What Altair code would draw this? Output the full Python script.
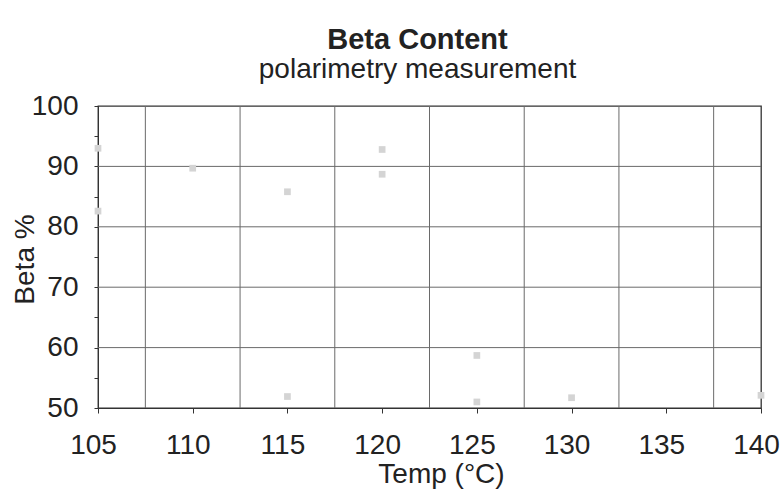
import altair as alt
import pandas as pd

# data
temps = [105, 105, 110, 115, 115, 120, 120, 125, 125, 130, 140]
beta = [93.0, 82.6, 89.7, 85.8, 51.9, 92.8, 88.7, 58.7, 51.0, 51.7, 52.1]
x_grid = [107.5, 112.5, 117.5, 122.5, 127.5, 132.5, 137.5]
y_grid = [60, 70, 80, 90]
x_ticks = [105, 110, 115, 120, 125, 130, 135, 140]
y_ticks = [50, 55, 60, 65, 70, 75, 80, 85, 90, 95, 100]

pts = pd.DataFrame({"Temp": temps, "Beta": beta})
vgrid = pd.DataFrame({"Temp": x_grid})
hgrid = pd.DataFrame({"Beta": y_grid})

FONT = "Liberation Sans"

x_axis = alt.Axis(
    values=x_ticks, grid=False, title="Temp (°C)", labelFontSize=28, titleFontSize=28,
    labelFont=FONT, titleFont=FONT, labelColor="#222", titleColor="#222",
    titleFontWeight="normal", tickSize=5, labelPadding=18, domainColor="#333",
    tickColor="#333", titleX=343, titleY=74, titleBaseline="alphabetic",
    labelFlush=False, labelOverlap=False, labelOffset=-5,
)
y_axis = alt.Axis(
    values=y_ticks, grid=False, title="Beta %", labelFontSize=28, titleFontSize=28,
    labelFont=FONT, titleFont=FONT, labelColor="#222", titleColor="#222",
    titleFontWeight="normal", tickSize=4, labelPadding=16, domainColor="#333",
    tickColor="#333", labelExpr="datum.value % 10 == 0 ? datum.label : ''",
    titleX=-65, titleY=153, titleBaseline="alphabetic", titleAngle=270,
    labelFlush=False, labelOverlap=False,
)
x_scale = alt.Scale(domain=[105, 140], nice=False, zero=False)
y_scale = alt.Scale(domain=[50, 100], nice=False, zero=False)

vrules = alt.Chart(vgrid).mark_rule(color="#6a6a6a", strokeWidth=1).encode(
    x=alt.X("Temp:Q", scale=x_scale, axis=x_axis)
)
hrules = alt.Chart(hgrid).mark_rule(color="#6a6a6a", strokeWidth=1).encode(
    y=alt.Y("Beta:Q", scale=y_scale, axis=y_axis)
)
points = alt.Chart(pts).mark_square(size=45, color="#d4d4d4", opacity=1).encode(
    x=alt.X("Temp:Q", scale=x_scale, axis=x_axis),
    y=alt.Y("Beta:Q", scale=y_scale, axis=y_axis),
)

chart = alt.layer(vrules, hrules, points).properties(
    width=663,
    height=302,
    autosize=alt.AutoSizeParams(type="none"),
    padding={"left": 98, "top": 106, "right": 22, "bottom": 83},
    background="white",
    title=alt.TitleParams(
        text="Beta Content", subtitle="polarimetry measurement",
        font=FONT, subtitleFont=FONT, fontSize=29, subtitleFontSize=28,
        fontWeight="bold", color="#222", subtitleColor="#222",
        anchor="middle", dx=-12, offset=8, subtitlePadding=1,
    ),
).configure_view(stroke="#333", strokeWidth=1.3)

chart.save("out.html", embed_options={"renderer": "svg", "actions": False})
